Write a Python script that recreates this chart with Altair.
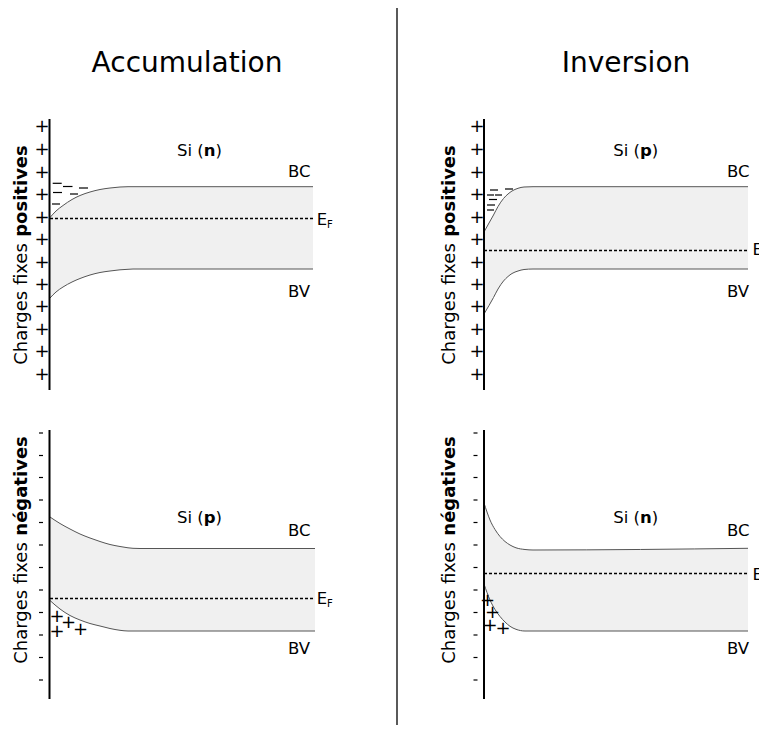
import altair as alt
import pandas as pd

# ---------------- data (page-pixel coordinates) -------------
XD = [8, 759]
YD = [8, 725]

panel_titles = ["Accumulation", "Inversion"]
panel_title_x = [187, 626]
panel_title_y = [72, 72]

# band edges (BC = conduction band, BV = valence band) for each panel
tl_x = [50, 56, 63, 72, 80, 90, 100, 110, 120, 128, 133, 313]
tl_bc = [217.5, 211, 205.5, 199.5, 195.5, 192, 189.5, 188, 187, 186.7, 186.7, 186.7]
tl_bv = [298, 292, 287, 282, 278.5, 275, 272.5, 271, 269.8, 269.3, 269, 269]

tr_x = [484, 489, 493.5, 498, 503.5, 508, 512, 518, 524, 533, 748]
tr_bc = [232, 223, 215, 206.5, 198.5, 194, 191, 188.3, 187, 186.7, 186.7]
tr_bv = [314, 305.5, 297.5, 289, 281, 276.5, 273.5, 271, 269.5, 269, 269]

bl_x = [50, 60, 70, 80, 90, 100, 110, 120, 128, 133, 140, 315]
bl_bc = [517, 523.5, 529, 534, 538, 541.5, 544.5, 546.5, 547.8, 548.3, 548.5, 548.5]
bl_bv = [600.5, 609, 615.5, 620, 623.5, 626, 628.5, 630.3, 631, 631, 631, 631]

br_x = [484, 487, 490, 495, 500, 505, 510, 516, 525, 533, 748]
br_bc = [503, 512, 520, 529.5, 536.5, 541.5, 545, 547.8, 549.5, 550, 548.3]
br_bv = [584, 592.5, 600, 609.5, 616.5, 622, 626.3, 629.3, 631, 631, 631]

# Fermi level lines
ef_x1 = [50, 484, 50, 484]
ef_x2 = [313, 748, 315, 748]
ef_y = [218.5, 250.5, 598.5, 573.5]
ef_label_x = [316.7, 752.5, 316.7, 752.5]
ef_label_y = [225, 255, 603.5, 580]

# vertical interface lines
axis_x = [49.5, 484, 49.5, 484]
axis_y1 = [119, 119, 430, 430]
axis_y2 = [390, 390, 699, 699]

# fixed charges along interfaces
plus_rows = [127, 150, 172.5, 195, 217.5, 240, 262.5, 284.5, 307, 329.5, 352, 375]
plus_cols = [42, 477]
minus_rows = [433, 455.5, 477.5, 500, 522.5, 545, 567.5, 590, 612.5, 635, 657.5, 680]
minus_x1 = [39, 473.5]
minus_x2 = [43, 477.5]

# mobile charges (electrons as dashes, holes as pluses)
el_x1 = [52.7, 63, 79, 53, 70, 52, 490, 505, 487, 495, 489, 487, 487]
el_x2 = [61.7, 72.5, 88, 62, 78, 60, 498, 513, 494, 502, 497, 495, 494]
el_y = [183.3, 186.5, 188, 192.5, 194, 204, 190, 189, 195, 195, 199.5, 205, 210]
hole_x = [57, 68.5, 80.5, 57, 487.5, 492.5, 490, 503]
hole_y = [617, 623, 629.5, 632, 601, 613, 626, 629.3]

band_text = ["BC", "BV", "BC", "BV", "BC", "BV", "BC", "BV"]
band_text_x = [288, 288, 727, 727, 288, 288, 727, 727]
band_text_y = [176.5, 296.7, 176.5, 296.7, 536, 654, 536, 654]

si_x = [177, 613.3, 177, 613.3]
si_y = [156, 156, 523.3, 523.3]
dopant = ["n", "p", "p", "n"]

ytitle_x = [21.5, 450, 21.5, 450]
ytitle_start = [364.8, 364.8, 663.8, 663.8]
ytitle_end = [145.2, 145.2, 436.2, 436.2]
ytitle_bold = ["positives", "positives", "négatives", "négatives"]

divider_x = [397]
divider_y1 = [8]
divider_y2 = [725]

FONT = "DejaVu Sans"
LABEL_SIZE = 16.5

# ---------------- helpers ----------------
def X(f="x"):
    return alt.X(f"{f}:Q", scale=alt.Scale(domain=XD, nice=False, zero=False), axis=None)


def Y(f="y"):
    return alt.Y(f"{f}:Q", scale=alt.Scale(domain=YD, reverse=True, nice=False, zero=False), axis=None)


def text_layer(df, **mk):
    return alt.Chart(df).mark_text(font=FONT, **mk).encode(x=X(), y=Y(), text="t:N")


# ---------------- tables ----------------
panels = [("tl", tl_x, tl_bc, tl_bv), ("tr", tr_x, tr_bc, tr_bv),
          ("bl", bl_x, bl_bc, bl_bv), ("br", br_x, br_bc, br_bv)]
area_rows, line_rows = [], []
for name, xs, bcs, bvs in panels:
    for xv, a, b in zip(xs, bcs, bvs):
        area_rows.append({"panel": name, "x": xv, "bc": a, "bv": b})
        line_rows.append({"key": name + "bc", "x": xv, "y": a})
        line_rows.append({"key": name + "bv", "x": xv, "y": b})
area_df = pd.DataFrame(area_rows)
line_df = pd.DataFrame(line_rows)

area = alt.Chart(area_df).mark_area(color="#f0f0f0", interpolate="monotone").encode(
    x=X(), y=Y("bc"), y2="bv:Q", detail="panel:N")
lines = alt.Chart(line_df).mark_line(color="#555555", strokeWidth=1, interpolate="monotone").encode(
    x=X(), y=Y(), detail="key:N")

ef_df = pd.DataFrame({"x": ef_x1, "x2": ef_x2, "y": ef_y})
ef = alt.Chart(ef_df).mark_rule(color="black", strokeWidth=1.4, strokeDash=[3, 2]).encode(
    x=X(), x2="x2:Q", y=Y())

ax_df = pd.DataFrame({"x": axis_x, "y": axis_y1, "y2": axis_y2})
axes = alt.Chart(ax_df).mark_rule(color="black", strokeWidth=2).encode(x=X(), y=Y(), y2="y2:Q")

div_df = pd.DataFrame({"x": divider_x, "y": divider_y1, "y2": divider_y2})
divider = alt.Chart(div_df).mark_rule(color="black", strokeWidth=1.3).encode(x=X(), y=Y(), y2="y2:Q")

minus_df = pd.DataFrame([{"x": a, "x2": b, "y": r} for a, b in zip(minus_x1, minus_x2) for r in minus_rows])
minus = alt.Chart(minus_df).mark_rule(color="black", strokeWidth=1.2).encode(x=X(), x2="x2:Q", y=Y())

el_df = pd.DataFrame({"x": el_x1, "x2": el_x2, "y": el_y})
electrons = alt.Chart(el_df).mark_rule(color="black", strokeWidth=1.2).encode(x=X(), x2="x2:Q", y=Y())

plus_df = pd.DataFrame([{"x": c, "y": r, "t": "+"} for c in plus_cols for r in plus_rows])
plus = text_layer(plus_df, fontSize=18, align="center", baseline="middle", color="black")

hole_df = pd.DataFrame({"x": hole_x, "y": hole_y, "t": ["+"] * len(hole_x)})
holes = text_layer(hole_df, fontSize=18, align="center", baseline="middle", color="black")

title_df = pd.DataFrame({"x": panel_title_x, "y": panel_title_y, "t": panel_titles})
titles = text_layer(title_df, fontSize=28, align="center", baseline="alphabetic", color="black")

band_df = pd.DataFrame({"x": band_text_x, "y": band_text_y, "t": band_text})
bands = text_layer(band_df, fontSize=LABEL_SIZE, align="left", baseline="alphabetic", color="black")

n_w = LABEL_SIZE * 1458 / 2048
si_w = LABEL_SIZE * 3319 / 2048
si_df = pd.DataFrame({"x": si_x, "y": si_y, "t": ["Si ("] * 4})
si_txt = text_layer(si_df, fontSize=LABEL_SIZE, align="left", baseline="alphabetic", color="black")
dop_df = pd.DataFrame({"x": [v + si_w for v in si_x], "y": si_y, "t": dopant})
dop_txt = text_layer(dop_df, fontSize=LABEL_SIZE, fontWeight="bold", align="left", baseline="alphabetic", color="black")
par_df = pd.DataFrame({"x": [v + si_w + n_w for v in si_x], "y": si_y, "t": [")"] * 4})
par_txt = text_layer(par_df, fontSize=LABEL_SIZE, align="left", baseline="alphabetic", color="black")

e_df = pd.DataFrame({"x": ef_label_x, "y": ef_label_y, "t": ["E"] * 4})
e_txt = text_layer(e_df, fontSize=LABEL_SIZE, align="left", baseline="alphabetic", color="black")
f_df = pd.DataFrame({"x": [v + 10.4 for v in ef_label_x], "y": [v + 3 for v in ef_label_y], "t": ["F"] * 4})
f_txt = text_layer(f_df, fontSize=10, align="left", baseline="alphabetic", color="black")

yt_df = pd.DataFrame({"x": ytitle_x, "y": ytitle_start, "t": ["Charges fixes"] * 4})
yt_txt = text_layer(yt_df, fontSize=18, angle=270, align="left", baseline="middle", color="black")
yb_df = pd.DataFrame({"x": ytitle_x, "y": ytitle_end, "t": ytitle_bold})
yb_txt = text_layer(yb_df, fontSize=18, fontWeight="bold", angle=270, align="right", baseline="middle", color="black")

chart = alt.layer(
    area, lines, ef, axes, divider, minus, electrons, plus, holes,
    titles, bands, si_txt, dop_txt, par_txt, e_txt, f_txt, yt_txt, yb_txt,
).properties(
    width=751, height=717, padding=0, background="white",
    autosize=alt.AutoSizeParams(type="none"),
).configure_view(stroke=None)

chart.save("out.html", embed_options={"renderer": "svg", "actions": False})
